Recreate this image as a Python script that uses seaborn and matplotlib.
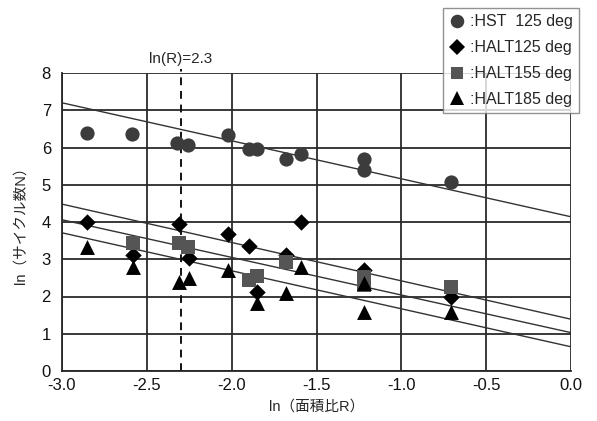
# Import libraries =============================================================
import numpy as np
import pandas as pd
import matplotlib
matplotlib.use('Agg')
import matplotlib.pyplot as plt
import seaborn as sns
from matplotlib.lines import Line2D

# Data =========================================================================
hst125_x = [-2.85, -2.59, -2.32, -2.26, -2.02, -1.90, -1.85, -1.68, -1.59,
            -1.22, -1.22, -0.71]
hst125_y = [6.38, 6.36, 6.12, 6.07, 6.34, 5.97, 5.97, 5.70, 5.82,
            5.68, 5.40, 5.07]

halt125_x = [-2.85, -2.58, -2.31, -2.25, -2.02, -1.90, -1.85, -1.68, -1.59,
             -1.22, -0.71]
halt125_y = [3.99, 3.11, 3.95, 3.03, 3.68, 3.35, 2.12, 3.11, 4.00,
             2.72, 1.99]

halt155_x = [-2.58, -2.31, -2.26, -1.90, -1.85, -1.68, -1.22, -1.22, -0.71]
halt155_y = [3.44, 3.43, 3.34, 2.44, 2.55, 2.93, 2.53, 2.32, 2.26]

halt185_x = [-2.85, -2.58, -2.31, -2.25, -2.02, -1.85, -1.68, -1.59,
             -1.22, -1.22, -0.71]
halt185_y = [3.34, 2.80, 2.40, 2.49, 2.71, 1.82, 2.09, 2.80,
             2.36, 1.59, 1.59]

# fitted lines: y = intercept + slope * x
line_intercept = [4.14, 1.39, 1.03, 0.65]
line_slope = [-1.02, -1.03, -1.01, -1.02]

series_names = ['HST  125 deg', 'HALT125 deg', 'HALT155 deg', 'HALT185 deg']
cut_off = -2.3

# Build table ==================================================================
df = pd.concat([
    pd.DataFrame({'x': hst125_x, 'y': hst125_y, 'test': series_names[0]}),
    pd.DataFrame({'x': halt125_x, 'y': halt125_y, 'test': series_names[1]}),
    pd.DataFrame({'x': halt155_x, 'y': halt155_y, 'test': series_names[2]}),
    pd.DataFrame({'x': halt185_x, 'y': halt185_y, 'test': series_names[3]}),
], ignore_index=True)

colors = {series_names[0]: '#3c3c3c', series_names[1]: '#000000',
          series_names[2]: '#555555', series_names[3]: '#000000'}
markers = {series_names[0]: 'o', series_names[1]: 'D',
           series_names[2]: 's', series_names[3]: '^'}
sizes = {series_names[0]: 105, series_names[1]: 70,
         series_names[2]: 95, series_names[3]: 115}

# Plotting =====================================================================
sns.set_style('white')
plt.rcParams['font.family'] = ['Liberation Sans', 'Noto Sans CJK JP',
                               'DejaVu Sans']

fig = plt.figure(figsize=(5.97, 4.21), dpi=100)
ax = fig.add_axes([62 / 597, 1 - 371 / 421, 509 / 597, 298 / 421])

# grid
for gx in np.arange(-3.0, 0.01, 0.5):
    ax.axvline(gx, color='#2a2a2a', lw=1.3, zorder=1)
for gy in range(0, 9):
    ax.axhline(gy, color='#2a2a2a', lw=1.3, zorder=1)

# fitted lines
xs = np.array([-3.0, 0.0])
for b, a in zip(line_intercept, line_slope):
    ax.plot(xs, b + a * xs, color='#333333', lw=1.0, zorder=2)

# cut off line
ax.plot([cut_off, cut_off], [0, 8.1], color='#111111', lw=1.4,
        ls=(0, (4, 3)), zorder=2, clip_on=False)
ax.text(cut_off, 8.2, 'ln(R)=2.3', ha='center', va='bottom', fontsize=11)

for name in series_names:
    sub = df[df['test'] == name]
    sns.scatterplot(data=sub, x='x', y='y', color=colors[name],
                    marker=markers[name], s=sizes[name], linewidth=0,
                    ax=ax, zorder=3, legend=False)

ax.set_xlim(-3.0, 0.0)
ax.set_ylim(0, 8)
ax.set_xticks(np.arange(-3.0, 0.01, 0.5))
ax.set_xticklabels([f'{v:.1f}' for v in np.arange(-3.0, 0.01, 0.5)])
ax.set_yticks(range(0, 9))
ax.tick_params(axis='both', labelsize=12, length=4, width=1.2,
               direction='inout', colors='#111111')
ax.tick_params(axis='x', pad=3)
ax.tick_params(axis='y', pad=6)
for sp in ax.spines.values():
    sp.set_visible(False)
ax.spines['bottom'].set_visible(True)
ax.spines['bottom'].set_linewidth(1.3)
ax.spines['left'].set_visible(True)
ax.spines['left'].set_linewidth(1.3)

ax.set_xlabel('ln（面積比R）', fontsize=10.5, labelpad=5)
ax.set_ylabel('ln（サイクル数N）', fontsize=10.5, labelpad=10)

# Legend =======================================================================
handles = [Line2D([], [], ls='none', marker=markers[n], color=colors[n],
                  markersize=np.sqrt(sizes[n]) * 0.95, markeredgewidth=0)
           for n in series_names]
fig.legend(handles, [':' + n for n in series_names], loc='upper left',
           bbox_to_anchor=(443 / 597, 1 - 8 / 421), fontsize=11.5,
           frameon=True, fancybox=False, edgecolor='#777777',
           handletextpad=0.3, handlelength=1.0, labelspacing=0.68,
           borderpad=0.4, borderaxespad=0)

fig.savefig('out.png', dpi=100)
